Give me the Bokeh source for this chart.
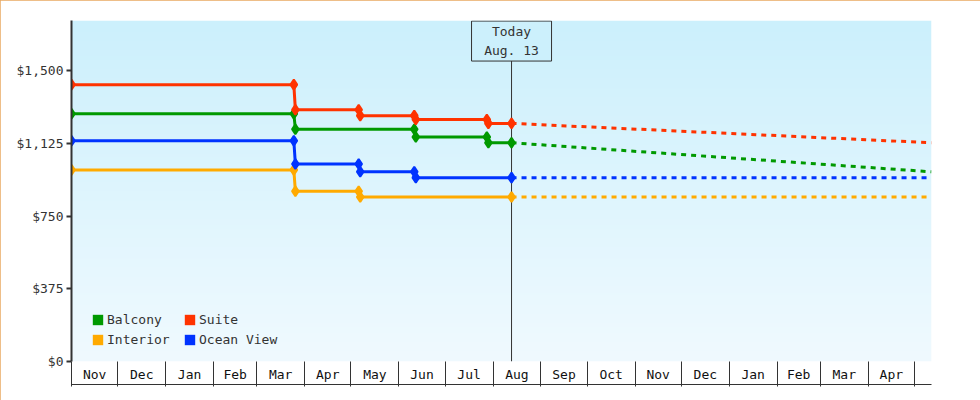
import numpy as np
import pandas as pd
from bokeh.plotting import figure
from bokeh.models import (Range1d, FixedTicker, NumeralTickFormatter, LinearAxis,
                          Legend, LegendItem)
from bokeh.embed import file_html
from bokeh.resources import INLINE
from bokeh.core.properties import value

FONT = "DejaVu Sans Mono"
TXT = "#333333"

# ---------------- data ----------------
series_names = ["Balcony", "Suite", "Interior", "Ocean View"]
series_colors = ["#009900", "#ff3300", "#ffaa00", "#0033ff"]

balcony_dates = ["2012-11-01", "2013-03-25", "2013-03-26", "2013-06-11", "2013-06-12",
                 "2013-07-28", "2013-07-29", "2013-08-13"]
balcony_prices = [1279, 1279, 1199, 1199, 1159, 1159, 1129, 1129]

suite_dates = ["2012-11-01", "2013-03-25", "2013-03-26", "2013-05-06", "2013-05-07",
               "2013-06-11", "2013-06-12", "2013-07-28", "2013-07-29", "2013-08-13"]
suite_prices = [1429, 1429, 1299, 1299, 1269, 1269, 1249, 1249, 1229, 1229]

interior_dates = ["2012-11-01", "2013-03-25", "2013-03-26", "2013-05-06", "2013-05-07",
                  "2013-08-13"]
interior_prices = [989, 989, 879, 879, 849, 849]

ocean_dates = ["2012-11-01", "2013-03-25", "2013-03-26", "2013-05-06", "2013-05-07",
               "2013-06-11", "2013-06-12", "2013-08-13"]
ocean_prices = [1139, 1139, 1019, 1019, 979, 979, 949, 949]

forecast_dates = ["2013-08-13", "2014-05-12"]
balcony_forecast = [1129, 979]
suite_forecast = [1229, 1129]
interior_forecast = [849, 849]
ocean_forecast = [949, 949]

today_date = "2013-08-13"
today_label = "Today\nAug. 13"

range_start = "2012-11-01"
range_end = "2014-05-12"
month_starts = pd.date_range("2012-11-01", "2014-05-01", freq="MS")
month_labels = [d.strftime("%b") for d in month_starts[:-1]]

y_ticks = [0, 375, 750, 1125, 1500]
y_max = 1760


def ms(d):
    return int(pd.Timestamp(d).value // 10**6)


x0 = ms(range_start)
x1 = ms(range_end)
starts_ms = [int(d.value // 10**6) for d in month_starts]
mids_ms = [(a + b) // 2 for a, b in zip(starts_ms[:-1], starts_ms[1:])]

# ---------------- figure ----------------
p = figure(width=980, height=400, output_backend="svg", toolbar_location=None,
           x_axis_type=None, y_axis_type=None,
           x_range=Range1d(x0, x1), y_range=Range1d(0, y_max),
           min_border_left=71, min_border_right=49, min_border_top=20, min_border_bottom=39)
p.outline_line_color = None
p.background_fill_color = "white"
p.border_fill_color = "white"
p.styles = {"outline": "1px solid #e8a860", "outline-offset": "-1px"}

# gradient background
n = 256
img = np.empty((n, 1), dtype=np.uint32)
view = img.view(dtype=np.uint8).reshape((n, 1, 4))
t = np.linspace(0, 1, n)
bottom = np.array([240, 250, 255])
top = np.array([204, 240, 252])
for k in range(3):
    view[:, 0, k] = (bottom[k] + (top[k] - bottom[k]) * t).astype(np.uint8)
view[:, 0, 3] = 255
p.image_rgba(image=[img], x=x0, y=0, dw=x1 - x0, dh=y_max)

# y axis
yax = LinearAxis(ticker=FixedTicker(ticks=y_ticks), formatter=NumeralTickFormatter(format="$0,0"))
yax.axis_line_color = TXT
yax.axis_line_width = 2
yax.major_tick_line_color = TXT
yax.major_tick_line_width = 2
yax.major_tick_out = 5
yax.major_tick_in = 0
yax.minor_tick_line_color = None
yax.major_label_standoff = 3
yax.major_label_text_font = FONT
yax.major_label_text_font_size = "13px"
yax.major_label_text_color = TXT
p.add_layout(yax, "left")

# x axis: month cells
xax = LinearAxis(ticker=FixedTicker(ticks=mids_ms, minor_ticks=starts_ms),
                 major_label_overrides={m: lab for m, lab in zip(mids_ms, month_labels)})
xax.axis_line_color = None
xax.major_tick_line_color = None
xax.major_tick_out = 0
xax.major_tick_in = 0
xax.minor_tick_line_color = TXT
xax.minor_tick_out = 25
xax.minor_tick_in = 0
xax.major_label_standoff = -20
xax.major_label_text_font = FONT
xax.major_label_text_font_size = "13px"
xax.major_label_text_color = "#111111"
p.add_layout(xax, "below")

xax2 = LinearAxis(ticker=FixedTicker(ticks=[x0]), major_label_overrides={x0: ""})
xax2.axis_line_color = TXT
xax2.major_tick_line_color = None
xax2.major_tick_out = 0
xax2.major_tick_in = 0
xax2.minor_tick_line_color = None
xax2.major_label_standoff = 0
xax2.major_label_text_font_size = "1px"
p.add_layout(xax2, "below")

# today line and box
today_ms = ms(today_date)
box_y = y_max * (1 - 20.5 / 340.0)
p.segment(x0=[today_ms], y0=[0], x1=[today_ms], y1=[box_y], line_color=TXT, line_width=1)
p.rect(x=[today_ms], y=[box_y], width=80, height=40, width_units="screen", height_units="screen",
       fill_color="#ccf0fc", line_color=TXT, line_width=1)
p.text(x=[today_ms], y=[box_y], text=[today_label], text_align="center", text_baseline="middle",
       text_font=value(FONT), text_font_size="13px", text_color=TXT, text_line_height=1.3)

# series
all_series = [
    (balcony_dates, balcony_prices, balcony_forecast),
    (suite_dates, suite_prices, suite_forecast),
    (interior_dates, interior_prices, interior_forecast),
    (ocean_dates, ocean_prices, ocean_forecast),
]
fc_x = [ms(d) for d in forecast_dates]
for (dates, prices, fc), color in zip(all_series, series_colors):
    xs = [ms(d) for d in dates]
    p.line(fc_x, fc, line_color=color, line_width=3, line_dash="5 5")
    p.line(xs, prices, line_color=color, line_width=3)
    p.scatter(xs, prices, marker="diamond", size=10, fill_color=color, line_color=color,
              line_width=2)

# legend (swatches only; NaN positions so nothing is drawn in the plot)
items = []
for name, color in zip(series_names, series_colors):
    r = p.quad(left=[np.nan], right=[np.nan], top=[np.nan], bottom=[np.nan],
               fill_color=color, line_color=None)
    items.append(LegendItem(label=name, renderers=[r]))
legend = Legend(items=items, ncols=2, orientation="horizontal", location=(20, 12))
legend.glyph_width = 13
legend.glyph_height = 13
legend.label_height = 20
legend.label_width = 76
legend.label_standoff = 3
legend.spacing = 0
legend.padding = 0
legend.margin = 0
legend.border_line_color = None
legend.background_fill_alpha = 0
legend.label_text_font = FONT
legend.label_text_font_size = "13px"
legend.label_text_color = TXT
p.add_layout(legend)

open("out.html", "w").write(file_html(p, INLINE))
